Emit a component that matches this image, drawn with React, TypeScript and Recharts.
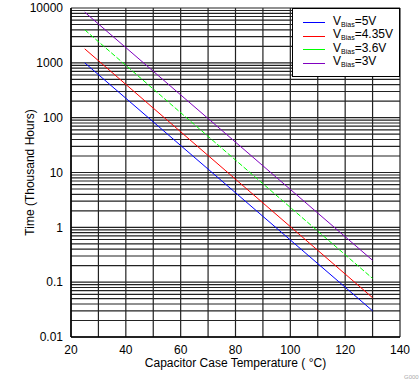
import {
  LineChart, Line, XAxis, YAxis, ReferenceLine,
} from "recharts";

const temps = [25, 130];
const vbias5 = [1000, 0.03];
const vbias435 = [1800, 0.052];
const vbias36 = [4000, 0.117];
const vbias3 = [8400, 0.25];

const xTicks = [20, 40, 60, 80, 100, 120, 140];
const xGrid = [20, 30, 40, 50, 60, 70, 80, 90, 100, 110, 120, 130, 140];
const yTicks = [0.01, 0.1, 1, 10, 100, 1000, 10000];
const yGrid = yTicks.slice(0, -1).flatMap((d) => [1, 2, 3, 4, 5, 6, 7, 8, 9].map((m) => +(d * m).toPrecision(3))).concat([10000]);

const series = [
  { key: "v5", label: "=5V", color: "#0000ff", values: vbias5, dash: undefined },
  { key: "v435", label: "=4.35V", color: "#ff0000", values: vbias435, dash: undefined },
  { key: "v36", label: "=3.6V", color: "#00ff00", values: vbias36, dash: "5 2" },
  { key: "v3", label: "=3V", color: "#8000c0", values: vbias3, dash: undefined },
];

const data = temps.map((t, i) => {
  const row: Record<string, number> = { temp: t };
  series.forEach((s) => { row[s.key] = s.values[i]; });
  return row;
});

const font = "'Liberation Sans', Arial, sans-serif";

function LegendBox() {
  return (
    <div style={{ position: "absolute", left: 292, top: 8, width: 108, height: 69, border: "1.5px solid #000", background: "#fff", boxSizing: "border-box", fontFamily: font, paddingTop: 7 }}>
      {series.map((s) => (
        <div key={s.key} style={{ display: "flex", alignItems: "center", height: 13.5 }}>
          <div style={{ width: 22, height: 0, borderTop: `1px solid ${s.color}`, marginLeft: 10, marginRight: 8 }} />
          <span style={{ fontSize: 12, color: "#000", lineHeight: "13px" }}>
            V<span style={{ fontSize: 7, verticalAlign: "-2px" }}>Bias</span>{s.label}
          </span>
        </div>
      ))}
    </div>
  );
}

export default function App() {
  return (
    <div style={{ position: "absolute", left: 0, top: 0, width: 419, height: 382, background: "#fff", fontFamily: font }}>
      <LineChart width={419} height={382} data={data} margin={{ top: 8, right: 19, bottom: 5, left: 0 }}>
        {xGrid.map((v) => (
          <ReferenceLine key={`x${v}`} x={v} stroke="#222" strokeWidth={1.2} />
        ))}
        {yGrid.map((v) => (
          <ReferenceLine key={`y${v}`} y={v} stroke="#222" strokeWidth={1.2} />
        ))}
        <XAxis
          dataKey="temp"
          type="number"
          domain={[20, 140]}
          ticks={xTicks}
          tickLine={false}
          axisLine={{ stroke: "#000", strokeWidth: 1.5 }}
          tick={{ fontSize: 12, fill: "#000", fontFamily: font }}
          height={40}
          label={{ value: "Capacitor Case Temperature ( °C)", position: "insideBottom", offset: 10, style: { fontSize: 12, fill: "#000", fontFamily: font } }}
        />
        <YAxis
          scale="log"
          domain={[0.01, 10000]}
          ticks={yTicks}
          allowDataOverflow
          tickLine={false}
          width={71}
          axisLine={{ stroke: "#000", strokeWidth: 1.5 }}
          tick={{ fontSize: 12, fill: "#000", fontFamily: font }}
          tickFormatter={(v: number) => String(v)}
          label={{ value: "Time (Thousand Hours)", angle: -90, position: "insideLeft", offset: 30, style: { fontSize: 12, fill: "#000", fontFamily: font, textAnchor: "middle" } }}
        />
        {series.map((s) => (
          <Line
            key={s.key}
            dataKey={s.key}
            stroke={s.color}
            strokeWidth={1}
            strokeDasharray={s.dash}
            dot={false}
            isAnimationActive={false}
          />
        ))}
      </LineChart>
      <LegendBox />
      <div style={{ position: "absolute", left: 404, top: 374, fontSize: 6, color: "#aaa", fontFamily: font }}>G000</div>
    </div>
  );
}
